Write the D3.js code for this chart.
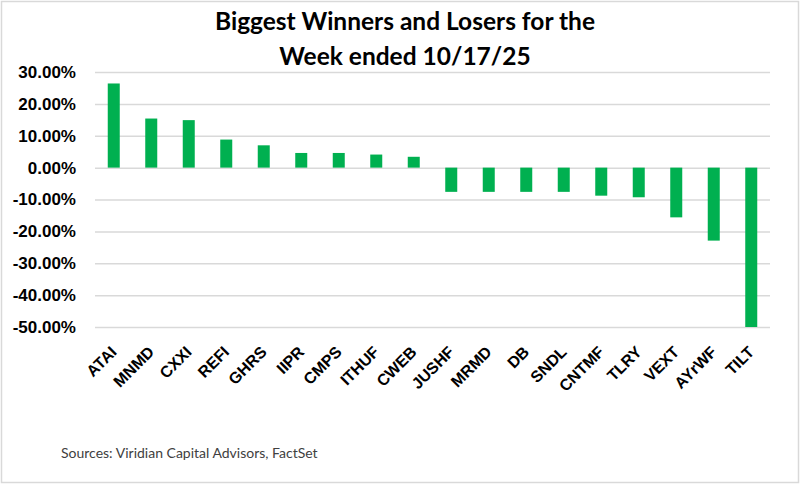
<!DOCTYPE html>
<html>
<head>
<meta charset="utf-8">
<script src="https://cdn.jsdelivr.net/npm/d3@7"></script>
<style>
  html, body { margin: 0; padding: 0; background: #fff; }
  svg { display: block; }
</style>
</head>
<body>
<svg id="chart" width="800" height="484"></svg>
<script>
// Weekly % change per ticker
const tickers = ['ATAI', 'MNMD', 'CXXI', 'REFI', 'GHRS', 'IIPR', 'CMPS', 'ITHUF', 'CWEB',
  'JUSHF', 'MRMD', 'DB', 'SNDL', 'CNTMF', 'TLRY', 'VEXT', 'AYrWF', 'TILT'];
const changes = [26.4, 15.4, 14.9, 8.8, 7.0, 4.6, 4.6, 4.1, 3.4,
  -7.6, -7.6, -7.6, -7.6, -8.8, -9.3, -15.6, -22.9, -50.0];
const yTicks = [30, 20, 10, 0, -10, -20, -30, -40, -50];
const titleLines = ['Biggest Winners and Losers for the', 'Week ended 10/17/25'];
const sourceNote = 'Sources: Viridian Capital Advisors, FactSet';

const svg = d3.select('#chart');
const W = 800, H = 484;
const plot = {left: 95, right: 770, top: 72, bottom: 327};

// frame
svg.append('rect')
    .attr('x', 1.5).attr('y', 1.5)
    .attr('width', W - 3).attr('height', H - 3)
    .attr('fill', '#fff')
    .attr('stroke', '#d9d9d9')
    .attr('stroke-width', 1.5);

const x = d3.scaleBand()
    .domain(tickers)
    .range([plot.left, plot.right])
    .paddingInner(0.68)
    .paddingOuter(0.34);

const y = d3.scaleLinear()
    .domain([-50, 30])
    .range([plot.bottom, plot.top]);

// gridlines + y labels
const yAxis = d3.axisLeft(y)
    .tickValues(yTicks)
    .tickSize(-(plot.right - plot.left))
    .tickPadding(19)
    .tickFormat(d => d.toFixed(2) + '%');

const gy = svg.append('g')
    .attr('transform', `translate(${plot.left},0)`)
    .call(yAxis);
gy.select('.domain').remove();
gy.selectAll('.tick line')
    .attr('stroke', '#d9d9d9')
    .attr('stroke-width', 1.5);
gy.selectAll('.tick text')
    .attr('fill', '#000')
    .style('font-family', '"Liberation Sans", Arial, sans-serif')
    .style('font-weight', 'bold')
    .style('font-size', '17px');

// bars
svg.append('g').selectAll('rect')
    .data(tickers)
    .join('rect')
    .attr('x', d => x(d))
    .attr('width', x.bandwidth())
    .attr('y', (d, i) => y(Math.max(0, changes[i])))
    .attr('height', (d, i) => Math.abs(y(changes[i]) - y(0)))
    .attr('fill', '#00b050');

// rotated category labels
svg.append('g').selectAll('text')
    .data(tickers)
    .join('text')
    .attr('transform', d => `translate(${x(d) + x.bandwidth() / 2 + 4},${plot.bottom + 26}) rotate(-45)`)
    .attr('text-anchor', 'end')
    .attr('fill', '#000')
    .style('font-family', '"Liberation Sans", Arial, sans-serif')
    .style('font-weight', 'bold')
    .style('font-size', '16px')
    .text(d => d);

// title
svg.append('g').selectAll('text')
    .data(titleLines)
    .join('text')
    .attr('x', 405)
    .attr('y', (d, i) => 30 + i * 35)
    .attr('text-anchor', 'middle')
    .attr('fill', '#000')
    .style('font-family', 'Lato, "Open Sans", sans-serif')
    .style('font-weight', 'bold')
    .style('font-size', '24.5px')
    .text(d => d);

// source note
svg.append('text')
    .attr('x', 61)
    .attr('y', 458)
    .attr('fill', '#404040')
    .style('font-family', 'Lato, "Open Sans", sans-serif')
    .style('font-size', '14px')
    .text(sourceNote);
</script>
</body>
</html>
